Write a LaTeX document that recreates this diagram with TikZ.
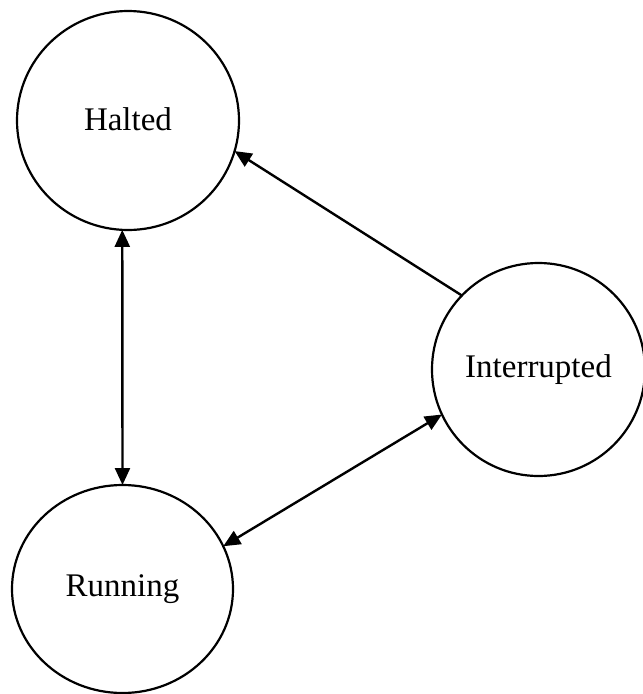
\documentclass[tikz,border=0pt]{standalone}
\usepackage{fontspec}
\setmainfont{Liberation Serif}
\usetikzlibrary{shapes.geometric,arrows.meta}
\begin{document}
\begin{tikzpicture}[x=1pt,y=-1pt,
  state/.style={draw, ellipse, line width=2.2pt, inner sep=0pt, outer sep=0pt,
    font=\fontsize{33}{36}\selectfont},
  conn/.style={line width=2.4pt, >={Triangle[length=17pt,width=15pt]}}]
\useasboundingbox (0,0) rectangle (643,694);
\node[state, minimum width=222pt, minimum height=219pt] (halted) at (128,120.5) {\raisebox{2pt}{Halted}};
\node[state, minimum width=221pt, minimum height=208pt] (running) at (122.5,589) {Running};
\node[state, minimum width=213pt, minimum height=213pt] (interrupted) at (538.5,369.5) {Interrupted};
\draw[conn,<->] (halted.-93.7) -- (running.90.8);
\draw[conn,->] (interrupted.136.1) -- (halted.-16.9);
\draw[conn,<->] (running.23.4) -- (interrupted.-155.7);
\end{tikzpicture}
\end{document}
